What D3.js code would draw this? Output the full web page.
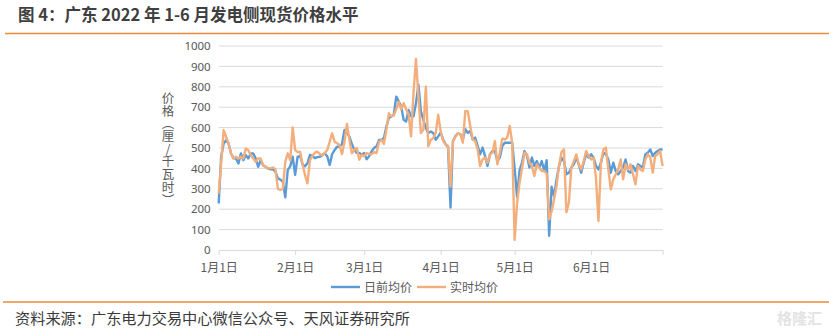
<!DOCTYPE html>
<html>
<head>
<meta charset="utf-8">
<script src="https://cdn.jsdelivr.net/npm/d3@7"></script>
<style>
  html, body { margin: 0; padding: 0; background: #ffffff; }
  svg { display: block; font-family: "Noto Sans CJK SC", "Noto Sans", sans-serif; }
</style>
</head>
<body>
<svg id="chart" width="829" height="335"></svg>
<script>
// ---- Data ----
const startDate = "2022-01-01";
const endDate = "2022-06-30";
const seriesNames = ["日前均价", "实时均价"];
const monthTickLabels = ["1月1日", "2月1日", "3月1日", "4月1日", "5月1日", "6月1日"];
const yTickValues = [0, 100, 200, 300, 400, 500, 600, 700, 800, 900, 1000];
const yTitle = "价格（厘/千瓦时）";

// 日前均价 (day-ahead average), by month
const dayAheadJan = [228,457,522,538,522,473,449,449,424,473, 440,465,449,473,473,449,408,440,416,408, 400,395,395,385,351,345,335,258,392,410,457];
const dayAheadFeb = [368,457,462,420,410,425,466,460,450,455, 457,465,474,460,417,470,490,506,506,520, 588,575,556,520,490,476,476,467];
const dayAheadMar = [475,445,460,484,500,508,540,540,549,606, 647,655,663,752,728,704,638,630,687,655, 655,720,810,680,638,598,573,581,573,540, 557];
const dayAheadApr = [575,542,518,505,208,534,559,572,567,542, 592,575,583,542,551,510,469,502,461,412, 469,485,485,436,453,510,526,526,526,526];
const dayAheadMay = [400,260,390,430,485,461,404,453,412,436, 404,436,387,440,70,310,265,346,412,453, 436,371,379,404,420,453,420,379,428,469, 453];
const dayAheadJun = [469,453,412,395,428,477,469,444,379,428, 387,371,387,404,444,387,379,412,387,420, 412,404,469,477,493,461,477,485,493,493];

// 实时均价 (real-time average), by month
const realTimeJan = [277,424,587,555,522,473,449,457,449,457, 449,498,489,465,449,432,449,449,416,408, 400,400,405,395,300,294,300,433,474,440,601];
const realTimeFeb = [490,480,482,420,368,327,441,460,477,482, 470,465,475,490,530,572,531,523,515,470, 530,618,540,474,490,500,443,467];
const realTimeMar = [460,475,470,470,480,475,530,540,520,590, 670,655,660,690,725,690,720,690,665,557, 770,936,750,573,590,801,508,540,549,573, 663];
const realTimeApr = [583,534,518,510,310,534,555,572,567,526, 681,681,608,542,534,493,412,444,453,428, 469,477,534,420,477,546,542,551,608,526];
const realTimeMay = [50,230,330,400,477,469,428,412,363,420, 404,387,387,375,150,190,250,314,412,480, 493,185,232,404,436,469,420,395,436,485, 461];
const realTimeJun = [444,453,350,142,428,493,502,395,297,346, 371,395,444,346,420,395,420,371,322,412, 395,387,444,469,453,380,461,469,485,412];

const dayAhead = [].concat(dayAheadJan, dayAheadFeb, dayAheadMar, dayAheadApr, dayAheadMay, dayAheadJun);
const realTime = [].concat(realTimeJan, realTimeFeb, realTimeMar, realTimeApr, realTimeMay, realTimeJun);

// ---- Drawing ----
const svg = d3.select("#chart");
const W = 829, H = 335;
const plot = { left: 218.7, right: 662.6, top: 46, bottom: 250 };
const colors = { day: "#5B9BD5", real: "#F4AE7B", frame: "#EB8A38", text: "#595959", grid: "#D9D9D9" };

const parse = d3.utcParse("%Y-%m-%d");
const t0 = parse(startDate);
const dates = dayAhead.map((_, i) => d3.utcDay.offset(t0, i));

const x = d3.scaleUtc().domain([t0, parse(endDate)]).range([plot.left, plot.right]);
const y = d3.scaleLinear().domain([0, 1000]).range([plot.bottom, plot.top]);

// Title
svg.append("text")
  .attr("x", 18).attr("y", 21)
  .attr("font-size", 16.5).attr("font-weight", "bold")
  .attr("fill", "#3f3f3f")
  .text("图 4：广东 2022 年 1-6 月发电侧现货价格水平");

// Frame lines
svg.append("line").attr("x1", 5).attr("x2", W).attr("y1", 33.5).attr("y2", 33.5)
  .attr("stroke", colors.frame).attr("stroke-width", 1.5);
svg.append("line").attr("x1", 3).attr("x2", W).attr("y1", 302).attr("y2", 302)
  .attr("stroke", colors.frame).attr("stroke-width", 1.5);

// Gridlines
svg.append("g").selectAll("line")
  .data(yTickValues.filter(v => v > 0))
  .join("line")
  .attr("x1", plot.left).attr("x2", plot.right)
  .attr("y1", d => y(d)).attr("y2", d => y(d))
  .attr("stroke", colors.grid).attr("stroke-width", 1);

// Y axis labels
const yAxis = d3.axisLeft(y).tickValues(yTickValues).tickSize(0).tickPadding(8).tickFormat(d3.format("d"));
const gy = svg.append("g").attr("transform", `translate(${plot.left},0)`).call(yAxis);
gy.select(".domain").remove();
gy.selectAll("text").attr("font-size", 11.5).attr("fill", colors.text)
  .attr("font-family", "'Noto Sans', 'Noto Sans CJK SC', sans-serif");

// X axis
const monthDates = monthTickLabels.map((_, i) => new Date(Date.UTC(2022, i, 1)));
const xAxis = d3.axisBottom(x)
  .tickValues(monthDates.concat([parse(endDate)]))
  .tickSize(5).tickPadding(8)
  .tickFormat((d, i) => i < monthTickLabels.length ? monthTickLabels[i] : "");
const gx = svg.append("g").attr("transform", `translate(0,${plot.bottom})`).call(xAxis);
gx.select(".domain").attr("stroke", colors.grid).attr("d", `M${plot.left},0.5H${plot.right}`);
gx.selectAll(".tick line").attr("stroke", colors.grid);
gx.selectAll("text").attr("font-size", 12).attr("fill", colors.text)
  .attr("font-family", "'Noto Sans CJK SC', sans-serif");

// Y axis title (vertical writing)
svg.append("text")
  .attr("x", 168).attr("y", 92)
  .attr("font-size", 12.5).attr("fill", colors.text)
  .style("writing-mode", "vertical-rl")
  .style("text-orientation", "upright")
  .style("letter-spacing", "0.2px")
  .text(yTitle);

// Lines
const line = d3.line()
  .x((d, i) => x(dates[i]))
  .y(d => y(d));

svg.append("path").datum(dayAhead)
  .attr("fill", "none").attr("stroke", colors.day)
  .attr("stroke-width", 2.4).attr("stroke-linejoin", "round")
  .attr("d", line);
svg.append("path").datum(realTime)
  .attr("fill", "none").attr("stroke", colors.real)
  .attr("stroke-width", 2.4).attr("stroke-linejoin", "round")
  .attr("d", line);

// Legend
const legend = svg.append("g").attr("transform", "translate(331,287)");
const legendItems = [
  { name: seriesNames[0], color: colors.day, x: 0 },
  { name: seriesNames[1], color: colors.real, x: 86 }
];
legendItems.forEach(it => {
  legend.append("line").attr("x1", it.x).attr("x2", it.x + 29).attr("y1", 0).attr("y2", 0)
    .attr("stroke", it.color).attr("stroke-width", 2.4);
  legend.append("text").attr("x", it.x + 33).attr("y", 4.5)
    .attr("font-size", 12).attr("fill", colors.text).text(it.name);
});

// Source note
svg.append("text")
  .attr("x", 15).attr("y", 324)
  .attr("font-size", 15.2).attr("fill", "#3a3a3a")
  .text("资料来源：广东电力交易中心微信公众号、天风证券研究所");

// Watermark
svg.append("text")
  .attr("x", 822).attr("y", 324).attr("text-anchor", "end")
  .attr("font-size", 15).attr("font-weight", "bold")
  .attr("fill", "#e3e3e3")
  .text("格隆汇");
</script>
</body>
</html>
